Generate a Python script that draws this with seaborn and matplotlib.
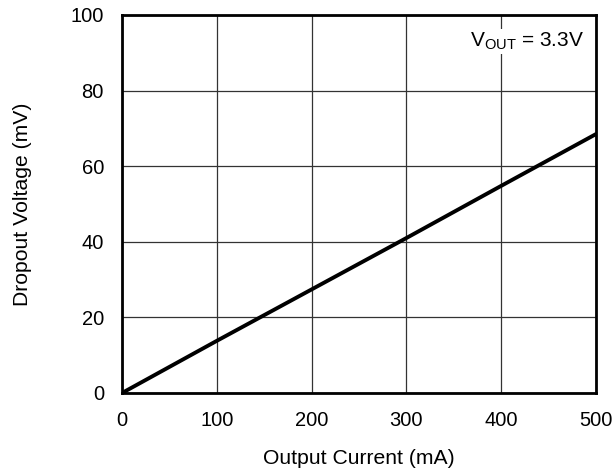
import matplotlib
matplotlib.use("Agg")
import matplotlib.pyplot as plt
import seaborn as sns
import pandas as pd

current_ma = [0, 100, 200, 300, 400, 500]
dropout_mv = [0, 13.8, 27.4, 41.0, 54.8, 68.5]
x_ticks = [0, 100, 200, 300, 400, 500]
y_ticks = [0, 20, 40, 60, 80, 100]

sns.set_theme(style="white")
plt.rcParams['font.family'] = ['Liberation Sans', 'DejaVu Sans']
plt.rcParams['mathtext.fontset'] = 'custom'
plt.rcParams['mathtext.rm'] = 'Liberation Sans'
plt.rcParams['mathtext.it'] = 'Liberation Sans'

df = pd.DataFrame({"current": current_ma, "dropout": dropout_mv})

fig = plt.figure(figsize=(6.14, 4.72), dpi=100)
ax = fig.add_axes([122/614, 1 - 393/472, (596-122)/614, (393-15)/472])
sns.lineplot(data=df, x="current", y="dropout", ax=ax, color="black", linewidth=2.8, zorder=3)
ax.set_xlim(0, 500)
ax.set_ylim(0, 100)
ax.set_xticks(x_ticks)
ax.set_yticks(y_ticks)
ax.grid(True, color="#333333", linewidth=0.9)
for s in ax.spines.values():
    s.set_visible(True)
    s.set_color("black")
    s.set_linewidth(2)
ax.tick_params(axis="x", labelsize=14.5, colors="black", length=0, pad=13)
ax.tick_params(axis="y", labelsize=14.5, colors="black", length=0, pad=13)
ax.set_xlabel("Output Current (mA)", fontsize=15.2, color="black", labelpad=14)
ax.set_ylabel("Dropout Voltage (mV)", fontsize=15.2, color="black", labelpad=28)
ax.text(0.975, 0.93, r"V$_{\mathregular{OUT}}$ = 3.3V", transform=ax.transAxes,
        ha="right", va="center", fontsize=15, color="black",
        bbox=dict(facecolor="white", edgecolor="none", pad=1))
fig.savefig("out.png", dpi=100)
